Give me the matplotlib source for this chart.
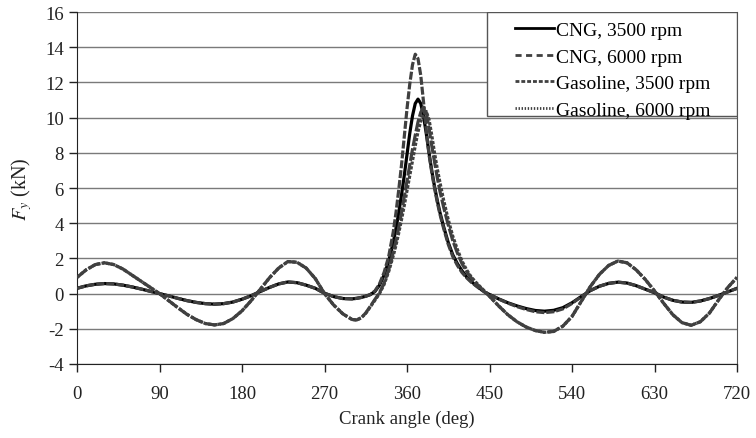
import numpy as np
import matplotlib
matplotlib.use("Agg")
import matplotlib.pyplot as plt
from matplotlib.lines import Line2D
from matplotlib.patches import Rectangle

# crank angle grids (deg): intake/compression, combustion window, expansion/exhaust
angle_head = list(range(0, 301, 10))
angle_comb = [305, 310, 315, 320, 325, 330, 335, 340, 345, 348, 351, 354, 357,
              360, 363, 366, 369, 372, 375, 378, 381, 384, 387, 390, 393, 396,
              400, 405, 410, 415, 420, 425, 430, 435, 440, 445]
angle_tail = list(range(450, 721, 10))

# 3500 rpm, before combustion (same for both fuels)
low_head = [0.30, 0.44, 0.53, 0.57, 0.55, 0.48, 0.38, 0.26, 0.13, 0.00,
            -0.13, -0.27, -0.40, -0.50, -0.57, -0.60, -0.57, -0.48, -0.32, -0.12,
            0.12, 0.35, 0.55, 0.66, 0.62, 0.48, 0.30, 0.02, -0.17, -0.28, -0.30]
# 6000 rpm, before combustion
high_head = [0.92, 1.35, 1.65, 1.75, 1.65, 1.40, 1.05, 0.70, 0.35, 0.00,
             -0.40, -0.80, -1.18, -1.48, -1.70, -1.78, -1.70, -1.42, -0.98, -0.40,
             0.25, 0.90, 1.45, 1.82, 1.78, 1.45, 0.85, 0.00, -0.65, -1.15, -1.47]

cng_3500_comb = [-0.27, -0.22, -0.15, -0.06, 0.12, 0.48, 1.05, 1.85, 2.9, 3.7,
                 4.6, 5.6, 6.7, 7.9, 9.1, 10.1, 10.8, 11.05, 10.8, 10.1, 9.1,
                 8.0, 7.0, 6.1, 5.3, 4.6, 3.8, 2.9, 2.2, 1.7, 1.3, 0.95, 0.7,
                 0.47, 0.27, 0.08]
gas_3500_comb = [-0.27, -0.22, -0.15, -0.05, 0.15, 0.55, 1.2, 2.1, 3.5, 4.6,
                 5.9, 7.3, 8.9, 10.5, 11.9, 13.0, 13.6, 13.35, 12.4, 10.9, 9.3,
                 7.9, 6.9, 6.0, 5.2, 4.5, 3.7, 2.8, 2.1, 1.6, 1.2, 0.9, 0.65,
                 0.45, 0.25, 0.08]
cng_6000_comb = [-1.5, -1.38, -1.1, -0.72, -0.33, 0.05, 0.6, 1.35, 2.35, 3.0,
                 3.75, 4.6, 5.5, 6.4, 7.3, 8.2, 9.0, 9.75, 10.3, 10.6, 10.3,
                 9.4, 8.4, 7.5, 6.6, 5.8, 4.9, 3.9, 3.0, 2.3, 1.7, 1.25, 0.9,
                 0.6, 0.35, 0.1]
gas_6000_comb = [-1.5, -1.38, -1.12, -0.75, -0.38, 0.0, 0.52, 1.25, 2.15, 2.75,
                 3.45, 4.2, 5.0, 5.85, 6.7, 7.55, 8.4, 9.2, 9.8, 10.2, 10.35,
                 9.9, 9.0, 8.0, 7.1, 6.3, 5.3, 4.2, 3.25, 2.5, 1.85, 1.35, 0.95,
                 0.65, 0.38, 0.12]

# after combustion
cng_3500_tail = [-0.05, -0.30, -0.52, -0.70, -0.85, -0.96, -1.00, -0.95, -0.80, -0.52,
                 -0.17, 0.17, 0.42, 0.58, 0.65, 0.60, 0.45, 0.25, 0.05, -0.20,
                 -0.38, -0.48, -0.50, -0.42, -0.28, -0.10, 0.10, 0.30]
gas_3500_tail = [-0.05, -0.31, -0.54, -0.74, -0.90, -1.03, -1.08, -1.03, -0.87, -0.56,
                 -0.18, 0.17, 0.42, 0.58, 0.65, 0.60, 0.45, 0.25, 0.05, -0.20,
                 -0.38, -0.48, -0.50, -0.42, -0.28, -0.10, 0.10, 0.30]
high_tail = [-0.15, -0.70, -1.20, -1.60, -1.90, -2.10, -2.20, -2.15, -1.85, -1.30,
             -0.45, 0.40, 1.10, 1.60, 1.85, 1.75, 1.35, 0.80, 0.15, -0.55,
             -1.20, -1.65, -1.80, -1.60, -1.10, -0.35, 0.35, 0.92]

labels = ["CNG, 3500 rpm", "CNG, 6000 rpm", "Gasoline, 3500 rpm", "Gasoline, 6000 rpm"]
x_ticks = list(range(0, 721, 90))
y_ticks = list(range(-4, 17, 2))

GRAY = "#404040"


def main():
    plt.rcParams["font.family"] = ["Liberation Serif", "DejaVu Serif"]
    plt.rcParams["mathtext.fontset"] = "stix"
    plt.rcParams["axes.unicode_minus"] = False

    angle = np.array(angle_head + angle_comb + angle_tail)
    # (values, colour, style on the curve, style in the key)
    series = [
        (low_head + cng_3500_comb + cng_3500_tail, "black", "-", "-"),
        (high_head + cng_6000_comb + high_tail, GRAY, (0, (4, 0.7)), (0, (2.2, 1.6))),
        (low_head + gas_3500_comb + gas_3500_tail, GRAY, (0, (2.5, 0.6)), (0, (1.4, 0.7))),
        (high_head + gas_6000_comb + high_tail, GRAY, (0, (1.0, 0.5)), (0, (0.5, 0.6))),
    ]

    fig = plt.figure(figsize=(7.56, 4.39), dpi=100)
    ax = fig.add_axes([77 / 756, 74 / 439, 660 / 756, 352 / 439])

    handles = []
    for (vals, color, ls, key_ls), lab in zip(series, labels):
        ax.plot(angle, vals, color=color, linestyle=ls, linewidth=2.3, zorder=3)
        handles.append(Line2D([], [], color=color, linestyle=key_ls,
                              linewidth=2.0, label=lab))

    ax.set_xlim(0, 720)
    ax.set_ylim(-4, 16)
    ax.set_xticks(x_ticks)
    ax.set_yticks(y_ticks)
    ax.yaxis.grid(True, color="#7a7a7a", linewidth=1.0)
    ax.set_axisbelow(True)
    ax.tick_params(direction="out", length=6, width=1, labelsize=13.5,
                   colors="#222222", labelcolor="#222222")
    ax.tick_params(axis="x", pad=9)
    for side in ("left", "bottom"):
        ax.spines[side].set_color("#222222")
    ax.spines["top"].set_visible(False)
    ax.spines["right"].set_color("#555555")

    ax.set_xlabel("Crank angle (deg)", fontsize=13.5, color="#222222", labelpad=6)
    ax.set_ylabel(r"$F_y$ (kN)", fontsize=14.5, color="#222222", labelpad=8)

    # key box in the top right corner of the plot area
    box = Rectangle((0.621, 0.7045), 0.379, 0.2955, transform=ax.transAxes,
                    facecolor="white", edgecolor="#555555", linewidth=1.0,
                    zorder=4)
    ax.add_patch(box)
    leg = ax.legend(handles=handles, loc="upper left",
                    bbox_to_anchor=(0.658, 0.984), borderaxespad=0,
                    fontsize=14, frameon=False, handlelength=2.0,
                    handletextpad=0.1, labelspacing=0.46, borderpad=0.2)
    leg.set_zorder(5)

    fig.savefig("out.png", dpi=100)
    plt.close(fig)


if __name__ == "__main__":
    main()
